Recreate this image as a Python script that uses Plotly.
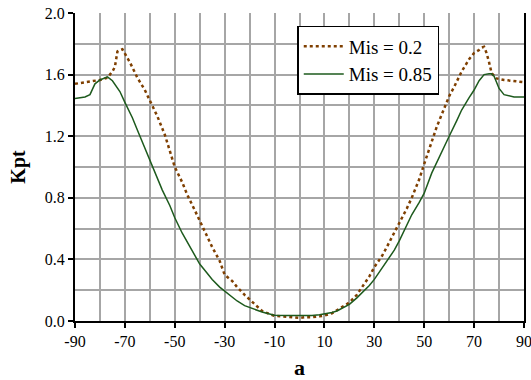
import plotly.graph_objects as go

# Mis = 0.2 (brown dotted)
x_02 = [-90, -86, -82, -80, -77, -75, -74, -73, -72, -71, -68, -65, -62, -60, -57, -54, -53, -50, -47, -45,
        -42, -40, -37, -35, -32, -30, -27, -25, -22, -20, -18, -15, -12, -10, -5, 0, 2, 5, 8, 10, 13, 15,
        18, 20, 23, 25, 28, 30, 33, 35, 38, 40, 43, 45, 48, 50, 53, 55, 58, 60, 62, 65, 68, 70, 72, 73,
        74, 75, 76, 77, 79, 82, 85, 88, 90]
y_02 = [1.54, 1.55, 1.56, 1.565, 1.58, 1.62, 1.65, 1.75, 1.76, 1.765, 1.68, 1.58, 1.50, 1.43, 1.33, 1.21, 1.16,
        1.00, 0.90, 0.82, 0.72, 0.65, 0.55, 0.48, 0.39, 0.30, 0.26, 0.22, 0.17, 0.14, 0.11, 0.065, 0.045, 0.033,
        0.028, 0.02, 0.025, 0.025, 0.03, 0.035, 0.05, 0.07, 0.095, 0.12, 0.17, 0.22, 0.29, 0.35, 0.42, 0.48,
        0.57, 0.63, 0.73, 0.80, 0.92, 1.02, 1.16, 1.26, 1.38, 1.46, 1.52, 1.62, 1.70, 1.74, 1.76, 1.775,
        1.78, 1.74, 1.68, 1.61, 1.575, 1.565, 1.56, 1.555, 1.55]

# Mis = 0.85 (green solid)
x_085 = [-90, -88, -86, -84, -83, -82, -80, -78, -77, -75, -72, -70, -67, -65, -62, -60, -57, -55, -52, -50,
         -47, -45, -42, -40, -37, -35, -32, -30, -27, -25, -22, -20, -17, -15, -12, -10, -5, 0, 5, 8, 10,
         13, 15, 18, 20, 23, 25, 28, 30, 33, 35, 38, 40, 43, 45, 48, 50, 53, 55, 58, 60, 63, 65, 68, 70,
         72, 74, 76, 77, 78, 79, 80, 82, 84, 86, 90]
y_085 = [1.445, 1.45, 1.455, 1.47, 1.50, 1.54, 1.565, 1.575, 1.585, 1.56, 1.49, 1.42, 1.32, 1.24, 1.12, 1.04,
         0.93, 0.85, 0.75, 0.67, 0.57, 0.51, 0.43, 0.37, 0.31, 0.27, 0.22, 0.195, 0.155, 0.13, 0.10, 0.087,
         0.07, 0.058, 0.045, 0.037, 0.035, 0.035, 0.035, 0.04, 0.045, 0.055, 0.065, 0.09, 0.108, 0.15, 0.18,
         0.23, 0.27, 0.34, 0.39, 0.46, 0.52, 0.62, 0.69, 0.77, 0.83, 0.96, 1.03, 1.14, 1.20, 1.30, 1.37, 1.45,
         1.50, 1.56, 1.60, 1.605, 1.605, 1.59, 1.55, 1.51, 1.47, 1.46, 1.455, 1.455]

x_ticks = [-90, -70, -50, -30, -10, 10, 30, 50, 70, 90]
y_ticks = [0.0, 0.4, 0.8, 1.2, 1.6, 2.0]

font_family = "'Liberation Serif', 'DejaVu Serif', serif"

fig = go.Figure()
fig.add_trace(go.Scatter(x=x_02, y=y_02, mode="lines", name="Mis = 0.2",
                         line=dict(color="#7f3f00", width=2.5, dash="dot")))
fig.add_trace(go.Scatter(x=x_085, y=y_085, mode="lines", name="Mis = 0.85",
                         line=dict(color="#1d5a1d", width=1.5)))

fig.update_layout(
    width=531, height=380,
    margin=dict(l=75, r=7, t=13, b=59),
    paper_bgcolor="white", plot_bgcolor="white",
    font=dict(family=font_family, color="black", size=16),
    showlegend=True,
    legend=dict(x=0.495, y=0.958, xanchor="left", yanchor="top",
                bgcolor="white", bordercolor="black", borderwidth=1.5,
                font=dict(family=font_family, size=19, color="black"),
                tracegroupgap=0, itemwidth=40),
)
fig.update_xaxes(
    range=[-90, 90], tickvals=x_ticks, ticktext=[str(v) for v in x_ticks],
    showgrid=True, gridcolor="#a6a6a6", gridwidth=1.5,
    minor=dict(dtick=10, tick0=-90, showgrid=True, gridcolor="#a6a6a6", gridwidth=1.5),
    showline=True, linecolor="black", linewidth=2,
    ticks="outside", ticklen=5, tickwidth=2, tickcolor="black",
    zeroline=False, automargin=False, ticklabeloverflow="allow",
    tickfont=dict(family=font_family, size=16),
    title=dict(text="<b>a</b>", font=dict(family=font_family, size=22), standoff=12),
)
fig.update_yaxes(
    range=[0, 2.0], tickvals=y_ticks, ticktext=[f"{v:.1f}" for v in y_ticks],
    showgrid=True, gridcolor="#a6a6a6", gridwidth=1.5,
    minor=dict(dtick=0.2, tick0=0, showgrid=True, gridcolor="#a6a6a6", gridwidth=1.5),
    showline=True, linecolor="black", linewidth=2, mirror=True,
    ticks="outside", ticklen=5, tickwidth=2, tickcolor="black",
    zeroline=False, automargin=False, ticklabeloverflow="allow",
    tickfont=dict(family=font_family, size=16),
    title=dict(text="<b>Kpt</b>", font=dict(family=font_family, size=20), standoff=14),
)

fig.write_html("out.html")
